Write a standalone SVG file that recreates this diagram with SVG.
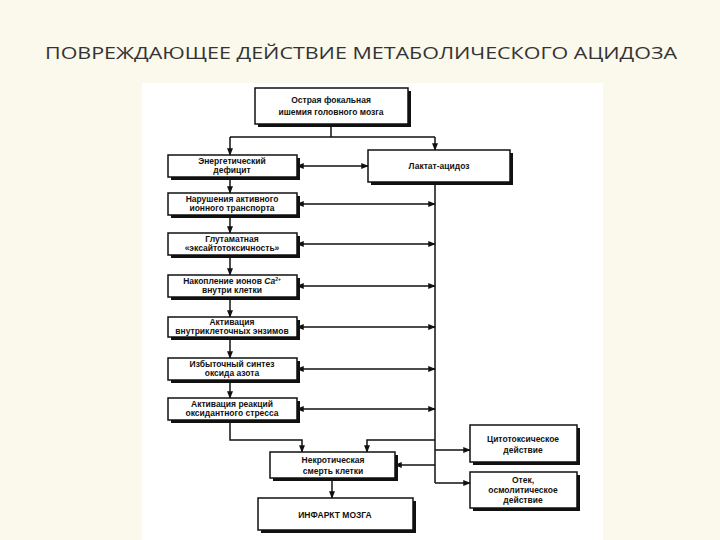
<svg xmlns="http://www.w3.org/2000/svg" width="720" height="540" viewBox="0 0 720 540">
<defs>
<marker id="a" viewBox="0 0 10 10" refX="9" refY="5" markerWidth="5" markerHeight="5" orient="auto-start-reverse"><path d="M0,1 L10,5 L0,9 z" fill="#111"/></marker>
</defs>
<style>
.b{fill:#fff;stroke:#111;stroke-width:1.5}
.s{fill:#111}
.t{font-family:"Liberation Sans",Arial,sans-serif;font-weight:bold;font-size:8.5px;fill:#111;text-anchor:middle}
.l{fill:none;stroke:#111;stroke-width:1.5}
</style>
<rect width="720" height="540" fill="#fbf8ec"/>
<rect x="142" y="83" width="461" height="457" fill="#fff"/>
<text x="45" y="59" font-family="Open Sans,Liberation Sans,Arial,sans-serif" font-size="17" fill="#333" textLength="632" lengthAdjust="spacingAndGlyphs">ПОВРЕЖДАЮЩЕЕ ДЕЙСТВИЕ МЕТАБОЛИЧЕСКОГО АЦИДОЗА</text>
<g id="connectors">
<path class="l" d="M331,125 V137 M230,137 H435" />
<path class="l" d="M230,137 V155" marker-end="url(#a)"/>
<path class="l" d="M435,137 V150" marker-end="url(#a)"/>
<path class="l" d="M297,166 H368" marker-start="url(#a)" marker-end="url(#a)"/>
<path class="l" d="M230,177 V193" marker-end="url(#a)"/>
<path class="l" d="M230,215 V233" marker-end="url(#a)"/>
<path class="l" d="M230,255 V275" marker-end="url(#a)"/>
<path class="l" d="M230,297 V317" marker-end="url(#a)"/>
<path class="l" d="M230,337 V358" marker-end="url(#a)"/>
<path class="l" d="M230,380 V398" marker-end="url(#a)"/>
<path class="l" d="M435,182 V483"/>
<path class="l" d="M297,204 H435" marker-start="url(#a)" marker-end="url(#a)"/>
<path class="l" d="M297,244 H435" marker-start="url(#a)" marker-end="url(#a)"/>
<path class="l" d="M297,286 H435" marker-start="url(#a)" marker-end="url(#a)"/>
<path class="l" d="M297,327 H435" marker-start="url(#a)" marker-end="url(#a)"/>
<path class="l" d="M297,369 H435" marker-start="url(#a)" marker-end="url(#a)"/>
<path class="l" d="M297,409 H435" marker-start="url(#a)" marker-end="url(#a)"/>
<path class="l" d="M230,420 V440 H302 V452" marker-end="url(#a)"/>
<path class="l" d="M435,440 H367 V452" marker-end="url(#a)"/>
<path class="l" d="M435,465 H395" marker-end="url(#a)"/>
<path class="l" d="M435,450 H470" marker-end="url(#a)"/>
<path class="l" d="M435,483 H470" marker-end="url(#a)"/>
<path class="l" d="M332,478 V498" marker-end="url(#a)"/>
</g>
<g id="n1"><rect class="s" x="258" y="91" width="153" height="36"/><rect class="b" x="255" y="88" width="153" height="36"/><text class="t" font-size="10" x="331" y="103">Острая фокальная</text><text class="t" font-size="10" x="331" y="115">ишемия головного мозга</text></g>
<g id="n2"><rect class="s" x="171" y="158" width="129" height="22"/><rect class="b" x="168" y="155" width="129" height="22"/><text class="t" x="232" y="164">Энергетический</text><text class="t" x="232" y="173">дефицит</text></g>
<g id="n3"><rect class="s" x="371" y="153" width="142" height="32"/><rect class="b" x="368" y="150" width="142" height="32"/><text class="t" font-size="10" x="439" y="169">Лактат-ацидоз</text></g>
<g id="n4"><rect class="s" x="171" y="196" width="129" height="22"/><rect class="b" x="168" y="193" width="129" height="22"/><text class="t" x="232" y="202">Нарушения активного</text><text class="t" x="232" y="211">ионного транспорта</text></g>
<g id="n5"><rect class="s" x="171" y="236" width="129" height="22"/><rect class="b" x="168" y="233" width="129" height="22"/><text class="t" x="232" y="242">Глутаматная</text><text class="t" x="232" y="251">«эксайтотоксичность»</text></g>
<g id="n6"><rect class="s" x="171" y="278" width="129" height="22"/><rect class="b" x="168" y="275" width="129" height="22"/><text class="t" x="232" y="284">Накопление ионов <tspan font-style="italic">Ca</tspan><tspan font-size="5" dy="-3">2+</tspan></text><text class="t" x="232" y="293">внутри клетки</text></g>
<g id="n7"><rect class="s" x="171" y="320" width="129" height="20"/><rect class="b" x="168" y="317" width="129" height="20"/><text class="t" x="232" y="325">Активация</text><text class="t" x="232" y="334" font-size="8">внутриклеточных энзимов</text></g>
<g id="n8"><rect class="s" x="171" y="361" width="129" height="22"/><rect class="b" x="168" y="358" width="129" height="22"/><text class="t" x="232" y="367">Избыточный синтез</text><text class="t" x="232" y="376">оксида азота</text></g>
<g id="n9"><rect class="s" x="171" y="401" width="129" height="22"/><rect class="b" x="168" y="398" width="129" height="22"/><text class="t" x="232" y="407">Активация реакций</text><text class="t" x="232" y="416">оксидантного стресса</text></g>
<g id="n10"><rect class="s" x="273" y="455" width="125" height="26"/><rect class="b" x="270" y="452" width="125" height="26"/><text class="t" font-size="9.5" x="333" y="463">Некротическая</text><text class="t" font-size="9.5" x="333" y="474">смерть клетки</text></g>
<g id="n11"><rect class="s" x="473" y="428" width="107" height="37"/><rect class="b" x="470" y="425" width="107" height="37"/><text class="t" font-size="9.5" x="523" y="442">Цитотоксическое</text><text class="t" font-size="9.5" x="523" y="453">действие</text></g>
<g id="n12"><rect class="s" x="473" y="475" width="107" height="36"/><rect class="b" x="470" y="472" width="107" height="36"/><text class="t" font-size="9.5" x="523" y="483">Отек,</text><text class="t" font-size="9.5" x="523" y="493">осмолитическое</text><text class="t" font-size="9.5" x="523" y="503">действие</text></g>
<g id="n13"><rect class="s" x="261" y="501" width="155" height="32"/><rect class="b" x="258" y="498" width="155" height="32"/><text class="t" font-size="10" x="335" y="518">ИНФАРКТ МОЗГА</text></g>
</svg>
